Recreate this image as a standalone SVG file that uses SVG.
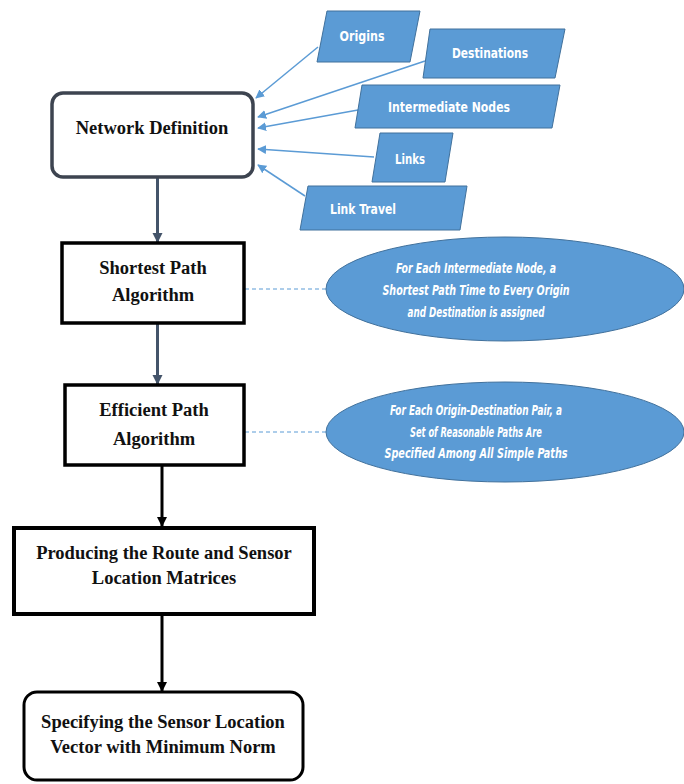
<svg xmlns="http://www.w3.org/2000/svg" width="684" height="784" viewBox="0 0 684 784">
<defs>
<style>
.para{fill:#5b9bd5;stroke:#41719c;stroke-width:1}
.ptxt{font-family:"Liberation Sans Narrow","DejaVu Sans Condensed","Liberation Sans",sans-serif;font-weight:bold;font-size:14px;fill:#fff;text-anchor:middle}
.etxt{font-family:"Liberation Sans Narrow","DejaVu Sans Condensed","Liberation Sans",sans-serif;font-weight:bold;font-style:italic;font-size:14px;fill:#fff;text-anchor:middle}
.btxt{font-family:"Liberation Serif","Times New Roman",serif;font-weight:bold;font-size:18.5px;fill:#111;text-anchor:middle}
.ell{fill:#5b9bd5;stroke:#41719c;stroke-width:1}
.blue{stroke:#5b9bd5;stroke-width:1.5;fill:none;marker-end:url(#ab)}
.dash{stroke:#5b9bd5;stroke-width:1;stroke-dasharray:4 3;fill:none}
.slate{stroke:#44546a;stroke-width:3;fill:none;marker-end:url(#as)}
.blk{stroke:#000;stroke-width:3;fill:none;marker-end:url(#ak)}
</style>
<marker id="ab" viewBox="0 0 10 10" refX="9" refY="5" markerWidth="6" markerHeight="6" orient="auto" markerUnits="strokeWidth"><path d="M0,0 L10,5 L0,10 z" fill="#5b9bd5"/></marker>
<marker id="as" viewBox="0 0 10 10" refX="9" refY="5" markerWidth="3.5" markerHeight="3.5" orient="auto" markerUnits="strokeWidth"><path d="M0,0 L10,5 L0,10 z" fill="#44546a"/></marker>
<marker id="ak" viewBox="0 0 10 10" refX="9" refY="5" markerWidth="3.5" markerHeight="3.5" orient="auto" markerUnits="strokeWidth"><path d="M0,0 L10,5 L0,10 z" fill="#000"/></marker>
</defs>
<rect width="684" height="784" fill="#fff"/>

<g id="connectors">
<line class="blue" x1="318" y1="47" x2="256" y2="98"/>
<line class="blue" x1="425" y1="61" x2="258" y2="117"/>
<line class="blue" x1="358" y1="110" x2="258" y2="128"/>
<line class="blue" x1="374" y1="157" x2="258" y2="149"/>
<line class="blue" x1="305" y1="196" x2="258" y2="165"/>
<line class="slate" x1="157.5" y1="177" x2="157.5" y2="242"/>
<line class="slate" x1="157.5" y1="323" x2="157.5" y2="384"/>
<line class="blk" x1="162" y1="465" x2="162" y2="526"/>
<line class="blk" x1="162" y1="615" x2="162" y2="691"/>
<line class="dash" x1="245" y1="289" x2="326" y2="289"/>
<line class="dash" x1="245" y1="432" x2="326" y2="432"/>
</g>

<g id="origins">
<polygon class="para" points="327,11 420,11 410,62 317,62"/>
<text class="ptxt" x="362" y="41" textLength="45" lengthAdjust="spacingAndGlyphs">Origins</text>
</g>
<g id="destinations">
<polygon class="para" points="430,29 565,29 555,78 423,78"/>
<text class="ptxt" x="490" y="58" textLength="76" lengthAdjust="spacingAndGlyphs">Destinations</text>
</g>
<g id="intermediate-nodes">
<polygon class="para" points="362,85 560,85 552,128 355,128"/>
<text class="ptxt" x="449" y="112" textLength="122" lengthAdjust="spacingAndGlyphs">Intermediate Nodes</text>
</g>
<g id="links">
<polygon class="para" points="380,133 453,133 445,182 372,182"/>
<text class="ptxt" x="410" y="164" textLength="30" lengthAdjust="spacingAndGlyphs">Links</text>
</g>
<g id="link-travel">
<polygon class="para" points="308,186 467,186 460,230 300,230"/>
<text class="ptxt" x="363" y="214" textLength="66" lengthAdjust="spacingAndGlyphs">Link Travel</text>
</g>

<g id="network-definition">
<rect x="52" y="93" width="201" height="84" rx="11" fill="#fff" stroke="#3d4450" stroke-width="3.5"/>
<text class="btxt" x="152" y="134">Network Definition</text>
</g>

<g id="shortest-path">
<rect x="62" y="243" width="182" height="80" fill="#fff" stroke="#000" stroke-width="3.5"/>
<text class="btxt" x="153" y="274">Shortest Path</text>
<text class="btxt" x="153" y="301">Algorithm</text>
</g>

<g id="shortest-note">
<ellipse class="ell" cx="505" cy="289" rx="179" ry="52"/>
<text class="etxt" x="476" y="273" textLength="160" lengthAdjust="spacingAndGlyphs">For Each Intermediate Node, a</text>
<text class="etxt" x="476" y="295" textLength="187" lengthAdjust="spacingAndGlyphs">Shortest Path Time to Every Origin</text>
<text class="etxt" x="476" y="317" textLength="137" lengthAdjust="spacingAndGlyphs">and Destination is assigned</text>
</g>

<g id="efficient-path">
<rect x="65" y="385" width="179" height="80" fill="#fff" stroke="#000" stroke-width="3.5"/>
<text class="btxt" x="154" y="416">Efficient Path</text>
<text class="btxt" x="154" y="445">Algorithm</text>
</g>

<g id="efficient-note">
<ellipse class="ell" cx="505" cy="432" rx="179" ry="50"/>
<text class="etxt" x="476" y="415" textLength="172" lengthAdjust="spacingAndGlyphs">For Each Origin-Destination Pair, a</text>
<text class="etxt" x="476" y="437" textLength="132" lengthAdjust="spacingAndGlyphs">Set of Reasonable Paths Are</text>
<text class="etxt" x="476" y="458" textLength="183" lengthAdjust="spacingAndGlyphs">Specified Among All Simple Paths</text>
</g>

<g id="producing">
<rect x="14" y="528" width="300" height="86" fill="#fff" stroke="#000" stroke-width="4"/>
<text class="btxt" x="164" y="559">Producing the Route and Sensor</text>
<text class="btxt" x="164" y="584">Location Matrices</text>
</g>

<g id="specifying">
<rect x="24" y="692" width="279" height="88" rx="13" fill="#fff" stroke="#000" stroke-width="3"/>
<text class="btxt" x="163" y="728">Specifying the Sensor Location</text>
<text class="btxt" x="163" y="753">Vector with Minimum Norm</text>
</g>
</svg>
